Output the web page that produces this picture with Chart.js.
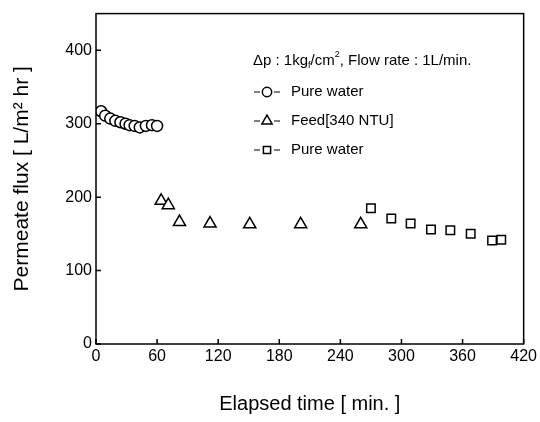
<!DOCTYPE html>
<html>
<head>
<meta charset="utf-8">
<script src="https://cdn.jsdelivr.net/npm/chart.js@4"></script>
<style>
  html, body { margin: 0; padding: 0; background: #fff; }
  #wrap { width: 540px; height: 422px; }
</style>
</head>
<body>
<div id="wrap"><canvas id="fluxChart"></canvas></div>
<script>
// ===== data =====
const pureTime1 = [5, 9, 14, 19, 24, 29, 33, 38, 43, 49, 55, 60];
const pureFlux1 = [317, 311, 307, 304, 302, 300, 298, 297, 295, 297, 298, 297];
const feedTime = [64, 71, 82, 112, 151, 201, 260];
const feedFlux = [195, 189, 166, 164, 163, 163, 163];
const pureTime2 = [270, 290, 309, 329, 348, 368, 389, 398];
const pureFlux2 = [185, 171, 164, 156, 155, 150, 141, 142];
const xTicks = [0, 60, 120, 180, 240, 300, 360, 420];
const yTicks = [0, 100, 200, 300, 400];
const seriesLabels = ["Pure water", "Feed[340 NTU]", "Pure water"];
const seriesStyles = ["circle", "triangle", "rect"];

const FONT = "'Liberation Sans', Arial, sans-serif";

function toPoints(xs, ys) {
  return xs.map((x, i) => ({ x: x, y: ys[i] }));
}

// 枠・内向き目盛り・凡例
const framePlugin = {
  id: "frame",
  afterDraw(chart) {
    const { ctx, chartArea: a, scales } = chart;
    ctx.save();
    ctx.strokeStyle = "#000";
    ctx.lineWidth = 1.5;
    ctx.strokeRect(a.left, a.top, a.right - a.left, a.bottom - a.top);

    ctx.beginPath();
    xTicks.forEach(v => {
      const px = scales.x.getPixelForValue(v);
      ctx.moveTo(px, a.bottom);
      ctx.lineTo(px, a.bottom - 5);
    });
    yTicks.forEach(v => {
      const py = scales.y.getPixelForValue(v);
      ctx.moveTo(a.left, py);
      ctx.lineTo(a.left + 5, py);
    });
    ctx.stroke();

    // note line
    ctx.fillStyle = "#000";
    ctx.textBaseline = "middle";
    ctx.textAlign = "left";
    ctx.font = "15px " + FONT;
    let x0 = 253;
    const ny = 61;
    const part1 = "Δp : 1kg";
    ctx.fillText(part1, x0, ny);
    x0 += ctx.measureText(part1).width;
    ctx.font = "9px " + FONT;
    ctx.fillText("f", x0, ny + 5);
    x0 += ctx.measureText("f").width;
    ctx.font = "15px " + FONT;
    ctx.fillText("/cm", x0, ny);
    x0 += ctx.measureText("/cm").width;
    ctx.font = "9px " + FONT;
    ctx.fillText("2", x0, ny - 6);
    x0 += ctx.measureText("2").width;
    ctx.font = "15px " + FONT;
    ctx.fillText(", Flow rate : 1L/min.", x0, ny);

    // legend rows
    const rowY = [92, 121, 150];
    chart.data.datasets.forEach((ds, i) => {
      const y = rowY[i];
      ctx.strokeStyle = "#000";
      ctx.beginPath();
      ctx.lineWidth = 1.2;
      ctx.moveTo(254, y); ctx.lineTo(260, y);
      ctx.moveTo(274, y); ctx.lineTo(280, y);
      ctx.stroke();
      ctx.fillStyle = "#fff";
      ctx.lineWidth = 1.5;
      Chart.helpers.drawPoint(ctx, {
        pointStyle: ds.pointStyle,
        radius: ds.pointRadius * 0.85,
        borderWidth: 1.5
      }, 267, y);
      ctx.fillStyle = "#000";
      ctx.fillText(seriesLabels[i], 291, y);
    });
    ctx.restore();
  }
};

function makeSet(i, xs, ys, radius) {
  return {
    label: seriesLabels[i],
    data: toPoints(xs, ys),
    showLine: false,
    pointStyle: seriesStyles[i],
    pointRadius: radius,
    pointBorderWidth: 1.5,
    pointBorderColor: "#000",
    pointBackgroundColor: "#fff"
  };
}

new Chart(document.getElementById("fluxChart"), {
  type: "scatter",
  data: {
    datasets: [
      makeSet(0, pureTime1, pureFlux1, 5.5),
      makeSet(1, feedTime, feedFlux, 7),
      makeSet(2, pureTime2, pureFlux2, 6)
    ]
  },
  options: {
    responsive: true,
    maintainAspectRatio: false,
    animation: false,
    layout: { padding: { top: 10, right: 15, left: 0, bottom: 0 } },
    plugins: {
      legend: { display: false },
      tooltip: { enabled: false }
    },
    scales: {
      x: {
        type: "linear",
        min: 0,
        max: 420,
        afterBuildTicks: s => { s.ticks = xTicks.map(v => ({ value: v })); },
        afterFit: s => { s.height = 78; },
        grid: { display: false, drawTicks: false },
        border: { display: false },
        ticks: { color: "#000", font: { family: FONT, size: 16 }, padding: 3 },
        title: {
          display: true,
          text: "Elapsed time [ min. ]",
          color: "#000",
          font: { family: FONT, size: 20 },
          padding: { top: 0, bottom: 6 }
        }
      },
      y: {
        type: "linear",
        min: 0,
        max: 450,
        afterBuildTicks: s => { s.ticks = yTicks.map(v => ({ value: v })); },
        afterFit: s => { s.width = 96; },
        grid: { display: false, drawTicks: false },
        border: { display: false },
        ticks: { color: "#000", font: { family: FONT, size: 16 }, padding: 4 },
        title: {
          display: true,
          text: "Permeate flux [ L/m² hr ]",
          color: "#000",
          font: { family: FONT, size: 21 },
          padding: { top: 10, bottom: 0 }
        }
      }
    }
  },
  plugins: [framePlugin]
});
</script>
</body>
</html>
